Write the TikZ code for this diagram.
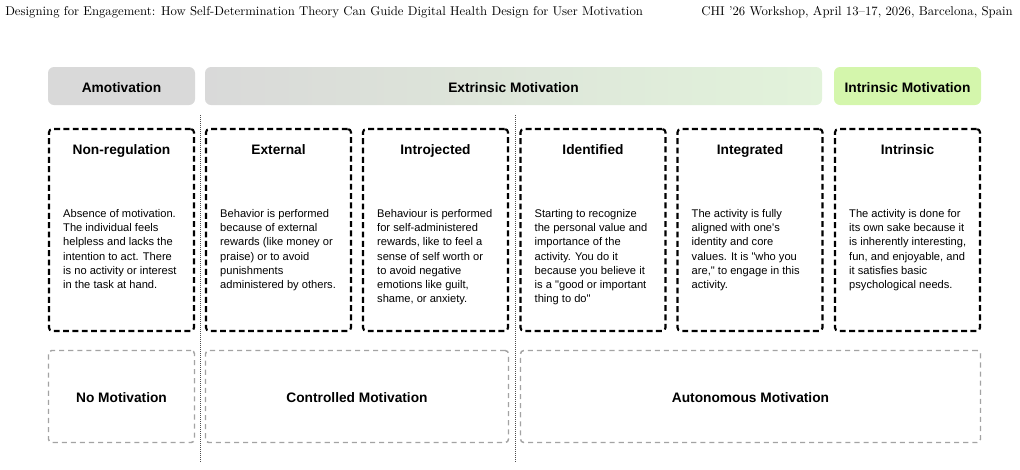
\documentclass[tikz,border=0pt]{standalone}
\usepackage{fontspec}
\usepackage{tikz}
\usetikzlibrary{calc}
\newfontfamily\diagfont{Liberation Sans}
\definecolor{amotgray}{HTML}{D9D9D9}
\definecolor{extrgreen}{HTML}{E2F3DA}
\definecolor{intrgreen}{HTML}{D4F6AC}
\definecolor{softgray}{HTML}{A3A3A3}

\begin{document}
\begin{tikzpicture}[
    x=0.75pt, y=-0.75pt,
    font=\diagfont,
    bar/.style={rounded corners=4.5pt, minimum width=110.25pt,
                minimum height=28.5pt, inner sep=0pt, text height=9.4pt, text depth=0pt,
                font=\diagfont\fontsize{10.3}{12}\bfseries},
    card/.style={draw, line width=1.6pt, dash pattern=on 4.4pt off 2.6pt,
                 rounded corners=2.5pt, minimum width=108.75pt, minimum height=151.5pt},
    group/.style={draw=softgray, line width=1.1pt, dash pattern=on 3.8pt off 3pt,
                  rounded corners=2.5pt, minimum height=69pt, inner sep=0pt,
                  text height=9.4pt, text depth=0pt,
                  font=\diagfont\fontsize{10.3}{12}\bfseries},
    title/.style={font=\diagfont\fontsize{10.3}{12}\bfseries, inner sep=0pt, anchor=base},
    desc/.style={font=\diagfont\fontsize{8.35}{10.7}\selectfont, align=left,
                 inner sep=0pt, anchor=north west},
    sep/.style={densely dotted, line width=0.5pt, black!70},
    hdr/.style={font=\fontsize{9.55}{11}\selectfont, inner sep=0pt},
  ]
  \useasboundingbox (0,0) rectangle (1020,469);

  % running header
  \node[hdr, anchor=west] (runl) at (5,12)
    {Designing for Engagement: How Self-Determination Theory Can Guide Digital Health Design for User Motivation};
  \node[hdr, anchor=east] (runr) at (1013,12)
    {CHI '26 Workshop, April 13--17, 2026, Barcelona, Spain};

  % motivation bars
  \node[bar, fill=amotgray] (amot) at (121.5,86) {Amotivation};
  \node[bar, minimum width=462.75pt, left color=amotgray, right color=extrgreen]
    (extr) at (513.5,86) {Extrinsic Motivation};
  \node[bar, fill=intrgreen] (intr) at (907.5,86) {Intrinsic Motivation};

  % regulation cards
  \node[card] (nonreg) at (121.5,230) {};
  \node[card] (external) at (278.5,230) {};
  \node[card] (introj) at (435.5,230) {};
  \node[card] (ident) at (593,230) {};
  \node[card] (integ) at (750,230) {};
  \node[card] (intrins) at (907.5,230) {};

  \node[title] at ($(nonreg.north)+(0,27)$) {Non-regulation};
  \node[title] at ($(external.north)+(0,27)$) {External};
  \node[title] at ($(introj.north)+(0,27)$) {Introjected};
  \node[title] at ($(ident.north)+(0,27)$) {Identified};
  \node[title] at ($(integ.north)+(0,27)$) {Integrated};
  \node[title] at ($(intrins.north)+(0,27)$) {Intrinsic};

  \node[desc] at ($(nonreg.north west)+(15,81)$)
    {Absence of motivation.\\The individual feels\\helpless and lacks the\\intention to act. There\\is no activity or interest\\in the task at hand.};
  \node[desc] at ($(external.north west)+(15,81)$)
    {Behavior is performed\\because of external\\rewards (like money or\\praise) or to avoid\\punishments\\administered by others.};
  \node[desc] at ($(introj.north west)+(15,81)$)
    {Behaviour is performed\\for self-administered\\rewards, like to feel a\\sense of self worth or\\to avoid negative\\emotions like guilt,\\shame, or anxiety.};
  \node[desc] at ($(ident.north west)+(15,81)$)
    {Starting to recognize\\the personal value and\\importance of the\\activity. You do it\\because you believe it\\is a "good or important\\thing to do"};
  \node[desc] at ($(integ.north west)+(15,81)$)
    {The activity is fully\\aligned with one's\\identity and core\\values. It is "who you\\are," to engage in this\\activity.};
  \node[desc] at ($(intrins.north west)+(15,81)$)
    {The activity is done for\\its own sake because it\\is inherently interesting,\\fun, and enjoyable, and\\it satisfies basic\\psychological needs.};

  % regulation groups
  \node[group, minimum width=109.5pt] (nomot) at (121.5,396.5) {No Motivation};
  \node[group, minimum width=227.25pt] (ctrl) at (357,396.5) {Controlled Motivation};
  \node[group, minimum width=345pt] (auto) at (750.5,396.5) {Autonomous Motivation};

  % separators
  \coordinate (septop) at (0,115);
  \coordinate (sepbot) at (0,463);
  \foreach \sx in {200,515}
    \draw[sep] (septop -| \sx,0) -- (sepbot -| \sx,0);
\end{tikzpicture}
\end{document}
